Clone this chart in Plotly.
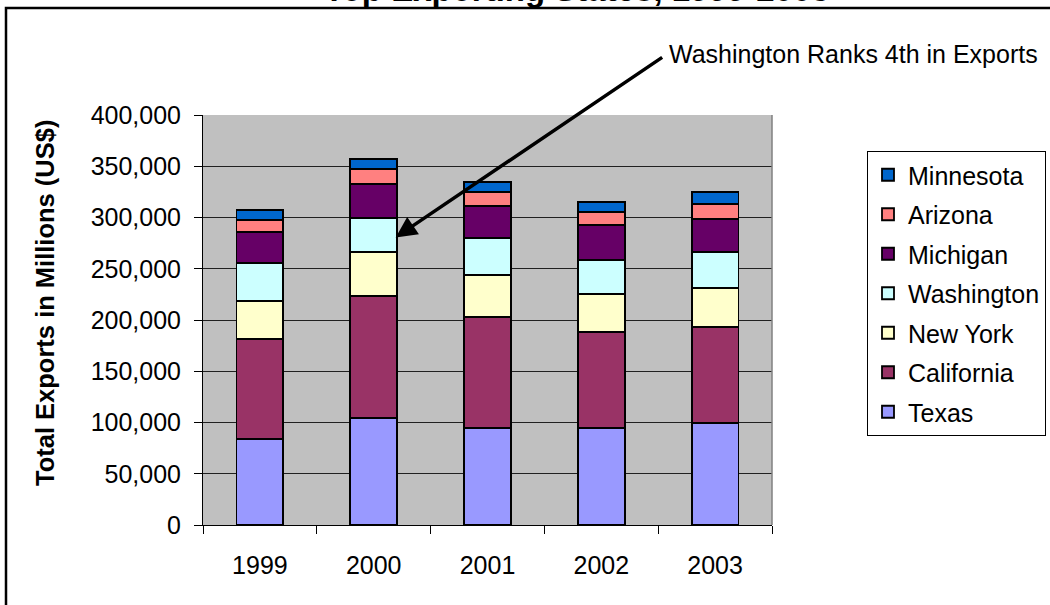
import plotly.graph_objects as go

years = ["1999", "2000", "2001", "2002", "2003"]
states = ["Texas", "California", "New York", "Washington", "Michigan", "Arizona", "Minnesota"]
texas = [83900, 104700, 94950, 94950, 99500]
california = [97600, 118700, 107700, 93300, 93400]
new_york = [37300, 43200, 41600, 36800, 38600]
washington = [36500, 32600, 35500, 33400, 35100]
michigan = [30900, 33500, 31800, 33900, 32200]
arizona = [11000, 14300, 13100, 13000, 14400]
minnesota = [10100, 10100, 9700, 9700, 11700]
values = [texas, california, new_york, washington, michigan, arizona, minnesota]
colors = ["#9999FF", "#993366", "#FFFFCC", "#CCFFFF", "#660066", "#FF8080", "#0066CC"]
y_ticks = [0, 50000, 100000, 150000, 200000, 250000, 300000, 350000, 400000]

FONT = "Liberation Sans, Arial, sans-serif"

fig = go.Figure()
n = len(states)
for i, (name, vals, col) in enumerate(zip(states, values, colors)):
    fig.add_trace(go.Bar(
        x=years, y=vals, name=name, legendgroup=name, legendrank=n - i,
        marker=dict(color=col, line=dict(color="black", width=1.8)),
    ))

# plot area pixel geometry
L, R, T, B = 203, 772, 115, 525
W, H = 1050, 605
def px(x):
    return (x - L) / (R - L)
def py(y):
    return (B - y) / (B - T)

fig.update_layout(
    width=W, height=H,
    margin=dict(l=L, r=W - R, t=T, b=H - B, autoexpand=False),
    paper_bgcolor="white", plot_bgcolor="#C0C0C0",
    barmode="stack", bargap=0.59,
    font=dict(family=FONT, size=25, color="black"),
    showlegend=True,
    legend=dict(
        x=px(867), y=py(151), xanchor="left", yanchor="top",
        traceorder="grouped", tracegroupgap=4,
        bordercolor="black", borderwidth=1, bgcolor="white",
        font=dict(family=FONT, size=25, color="black"),
        itemwidth=30,
    ),
    xaxis=dict(
        type="category", showgrid=False, showline=True, linecolor="black", linewidth=1,
        ticks="outside", tickson="boundaries", ticklen=8, tickcolor="black",
        ticklabelstandoff=18, tickfont=dict(size=25),
    ),
    yaxis=dict(
        range=[0, 400000], tickvals=y_ticks, tickformat=",d",
        showgrid=True, gridcolor="#202020", gridwidth=1,
        showline=True, linecolor="black", linewidth=1,
        ticks="outside", ticklen=8, tickcolor="black",
        ticklabelstandoff=8, tickfont=dict(size=25), zeroline=False,
    ),
)

# outer chart frame (extends past the right and bottom edges)
fig.add_shape(type="rect", xref="paper", yref="paper",
              x0=px(6), x1=px(1070), y0=py(620), y1=py(8),
              line=dict(color="black", width=2.5), layer="below")
# plot area right border
fig.add_shape(type="line", xref="paper", yref="paper",
              x0=1, x1=1, y0=0, y1=1, line=dict(color="#808080", width=1.5))

# partially visible title at top
fig.add_annotation(text="<b>Top Exporting States, 1999-2003</b>", xref="paper", yref="paper",
                   x=px(577), y=py(-10), xanchor="center", yanchor="middle",
                   showarrow=False, font=dict(family=FONT, size=33, color="black"))

# y-axis title
fig.add_annotation(text="<b>Total Exports in Millions (US$)</b>", xref="paper", yref="paper",
                   x=px(45), y=py(303), xanchor="center", yanchor="middle", textangle=-90,
                   showarrow=False, font=dict(family=FONT, size=25.5, color="black"))

# callout text
fig.add_annotation(text="Washington Ranks 4th in Exports", xref="paper", yref="paper",
                   x=px(667), y=py(54), xanchor="left", yanchor="middle",
                   showarrow=False, font=dict(family=FONT, size=25, color="black"))

# arrow to the 2000 Washington segment
fig.add_annotation(text="", x=1.193, y=280600, xref="x", yref="y",
                   ax=268, ay=-181, axref="pixel", ayref="pixel",
                   showarrow=True, arrowhead=2, arrowsize=1.2, arrowwidth=3.5,
                   arrowcolor="black")

fig.write_html("out.html", config={"displayModeBar": False},
               post_script="document.body.style.margin='0';")
